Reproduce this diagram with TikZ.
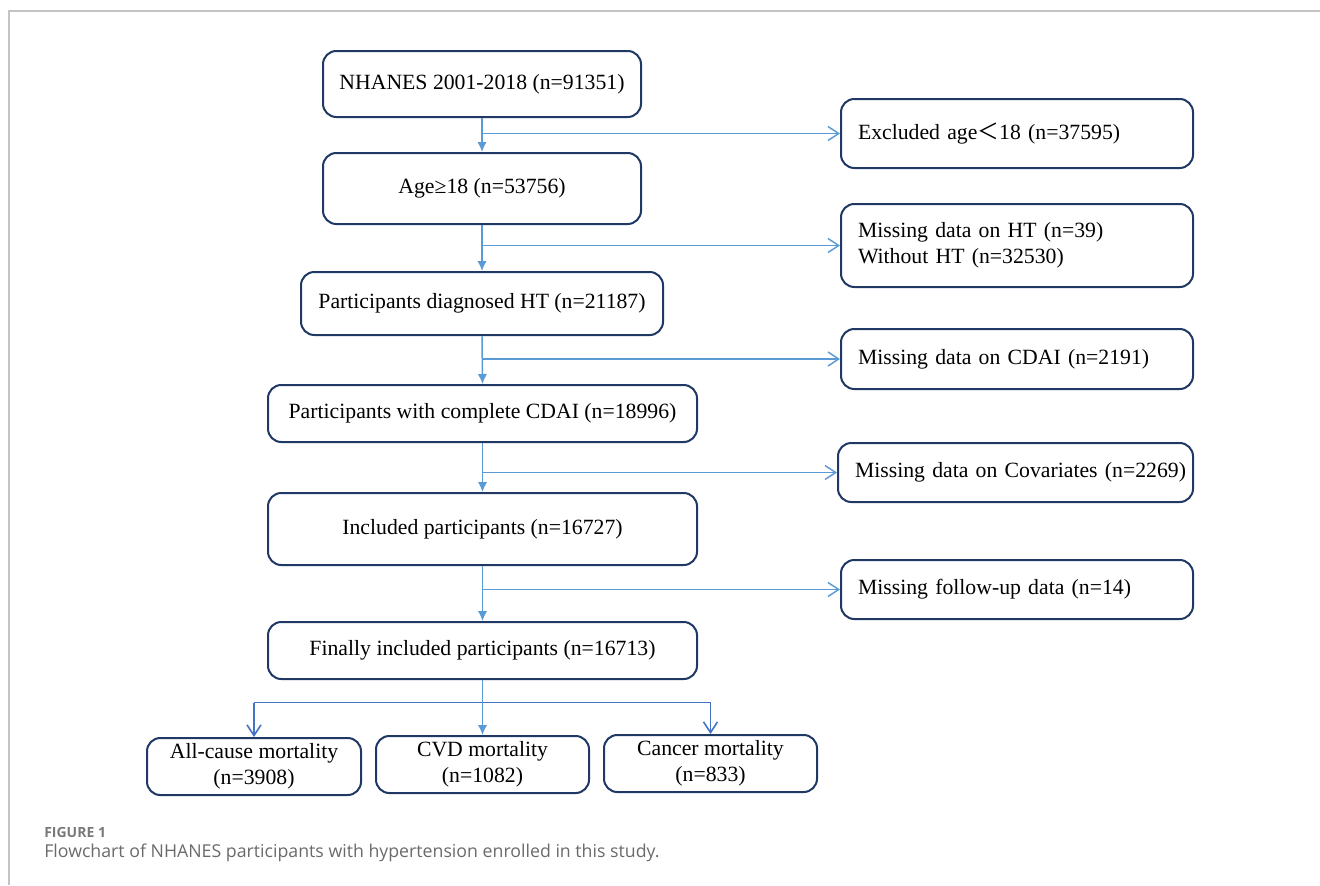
\documentclass[tikz,border=0pt]{standalone}
\usepackage{fontspec}
\setmainfont{Liberation Serif}
\newfontfamily\capfont{Open Sans}
\newfontfamily\cjk{Noto Sans CJK SC}
\usetikzlibrary{arrows.meta}
\definecolor{boxline}{HTML}{1F3864}
\definecolor{arrblue}{HTML}{5B9BD5}
\definecolor{brblue}{HTML}{4472C4}
\definecolor{framegray}{HTML}{C4C4C4}
\definecolor{capgray}{HTML}{6A6A6A}
\tikzset{
  bx/.style 2 args={draw=boxline, line width=1.5pt, rounded corners=10pt, inner sep=0pt,
    minimum width={#1*0.75pt}, minimum height={#2*0.75pt}, font=\fontsize{16.3}{19.5}\selectfont, align=center},
  sidebx/.style 2 args={bx={#1}{#2}, align=left, text width={(#1-34)*0.75pt}},
  flow/.style={draw=arrblue, line width=1.1pt, -{Latex[length=7.5pt,width=7pt]}},
  side/.style={draw=arrblue, line width=1.1pt, -{Straight Barb[length=8pt,width=10.5pt,line width=1.1pt]}},
  brside/.style={draw=brblue, line width=1.2pt, -{Straight Barb[length=8pt,width=10.5pt,line width=1.2pt]}},
  brplain/.style={draw=brblue, line width=1.2pt},
}
\begin{document}
\begin{tikzpicture}[x=0.75pt,y=-0.75pt]
\useasboundingbox (0,0) rectangle (1320,885);
\draw[framegray, line width=1.5pt] (9,885) -- (9,11) -- (1320,11);
% main column
\node[bx={318}{66}] (n1) at (482,84) {NHANES 2001-2018 (n=91351)};
\node[bx={318}{71}] (n2) at (482,188.5) {Age≥18 (n=53756)};
\node[bx={362}{63}] (n3) at (482,303.5) {Participants diagnosed HT (n=21187)};
\node[bx={429}{57}] (n4) at (482.5,413.5) {Participants with complete CDAI (n=18996)};
\node[bx={429}{72}] (n5) at (482.5,529) {Included participants (n=16727)};
\node[bx={429}{57}] (n6) at (482.5,650.5) {Finally included participants (n=16713)};
% side column
\node[sidebx={352}{69}] (e1) at (1017,133.5) {Excluded age{\cjk ＜}18 (n=37595)};
\node[sidebx={352}{83}] (e2) at (1017,245.5) {Missing data on HT (n=39)\\Without HT (n=32530)};
\node[sidebx={352}{60}] (e3) at (1017,359) {Missing data on CDAI (n=2191)};
\node[sidebx={355}{59}] (e4) at (1015.5,472.5) {\mbox{Missing data on Covariates (n=2269)}};
\node[sidebx={352}{59}] (e5) at (1017,589.5) {Missing follow-up data (n=14)};
% outcomes
\node[bx={214}{57}] (o1) at (254,766.5) {All-cause mortality\\(n=3908)};
\node[bx={213}{57}] (o2) at (482.5,764.5) {CVD mortality\\(n=1082)};
\node[bx={213}{57}] (o3) at (710.5,763.5) {Cancer mortality\\(n=833)};
% branch points
\coordinate (b1) at (n1.south |- e1.west);
\coordinate (b2) at (n2.south |- e2.west);
\coordinate (b3) at (n3.south |- e3.west);
\coordinate (b4) at (n4.south |- e4.west);
\coordinate (b5) at (n5.south |- e5.west);
\coordinate (s6) at (482.5,702.5);
\coordinate (sl) at (o1.north |- s6);
\coordinate (sr) at (o3.north |- s6);
% connectors
\draw[brplain] (sl) -- (sr);
\draw[brside] (sl) -- (o1.north);
\draw[brside] (sr) -- (o3.north);
\draw[flow] (n1.south) -- (n2.north);
\draw[flow] (n2.south) -- (n3.north);
\draw[flow] (n3.south) -- (n4.north);
\draw[flow] (n4.south) -- (n5.north);
\draw[flow] (n5.south) -- (n6.north);
\draw[flow] (n6.south) -- (o2.north);
\draw[side] (b1) -- (e1.west);
\draw[side] (b2) -- (e2.west);
\draw[side] (b3) -- (e3.west);
\draw[side] (b4) -- (e4.west);
\draw[side] (b5) -- (e5.west);
% caption
\node[anchor=west, inner sep=0pt, text=capgray!90, font=\capfont\bfseries\fontsize{10.5}{12}\selectfont] (fig) at (44,832) {FIGURE 1};
\node[anchor=west, inner sep=0pt, text=capgray, font=\capfont\fontsize{13.3}{16}\selectfont] (cap) at (44,853) {Flowchart of NHANES participants with hypertension enrolled in this study.};
\end{tikzpicture}
\end{document}
